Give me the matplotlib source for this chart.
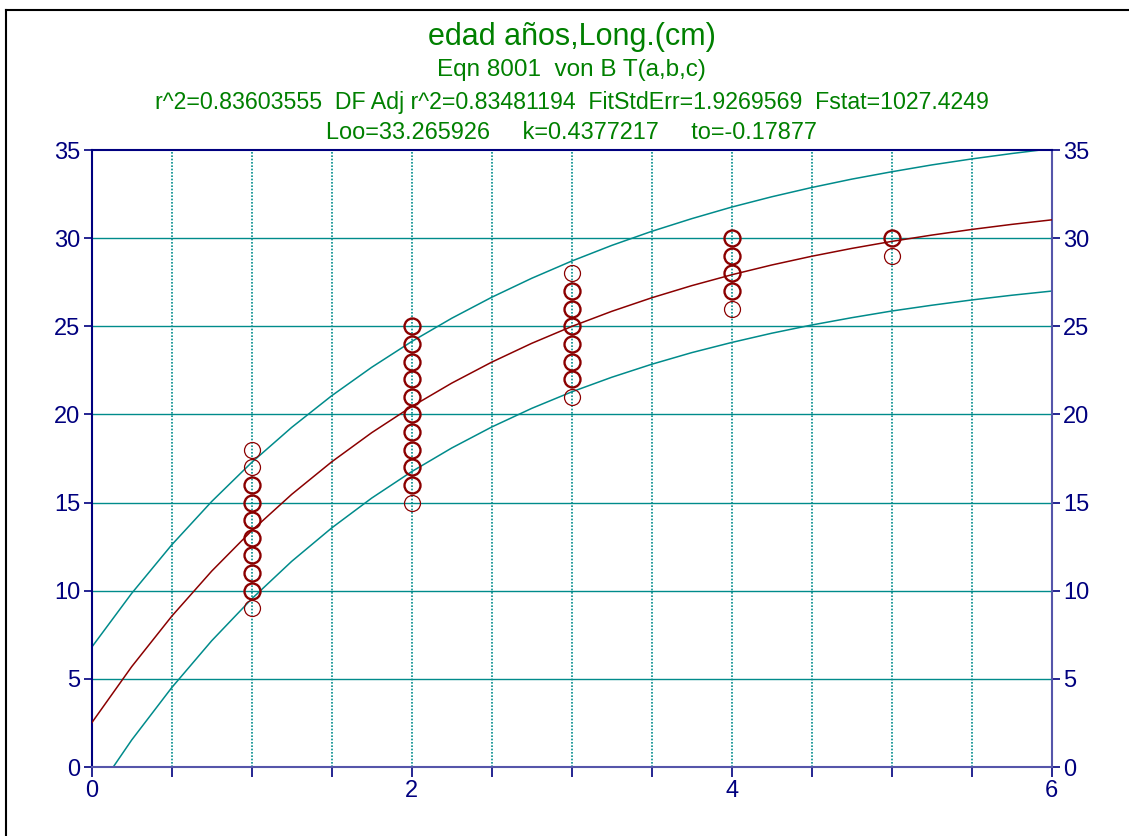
import numpy as np
import matplotlib
matplotlib.use('Agg')
import matplotlib.pyplot as plt
from matplotlib.lines import Line2D
from matplotlib.ticker import MultipleLocator, FixedLocator

plt.rcParams['font.family'] = ['Liberation Sans', 'DejaVu Sans']

# datos observados (edad, longitud, multiplicidad aparente)
edad = [1]*10 + [2]*11 + [3]*8 + [4]*5 + [5]*2
longitud = (list(range(9, 19)) + list(range(15, 26)) + list(range(21, 29))
            + list(range(26, 31)) + [29, 30])
n_obs = ([1, 2, 2, 2, 2, 2, 2, 2, 1, 1]
         + [1] + [2]*10
         + [1, 2, 2, 2, 2, 2, 2, 1]
         + [1, 2, 2, 2, 2]
         + [1, 2])

# parametros del ajuste von Bertalanffy
Loo, k, t0 = 33.265926, 0.4377217, -0.17877

# semiancho de la banda, cada 0.25 años
t_band = [0, 0.25, 0.5, 0.75, 1, 1.25, 1.5, 1.75, 2, 2.25, 2.5, 2.75, 3,
          3.25, 3.5, 3.75, 4, 4.25, 4.5, 4.75, 5, 5.25, 5.5, 5.75, 6]
semiancho = [4.29, 4.16, 4.05, 3.95, 3.87, 3.80, 3.75, 3.71, 3.69, 3.68,
             3.68, 3.69, 3.71, 3.74, 3.77, 3.80, 3.84, 3.87, 3.90, 3.93,
             3.95, 3.98, 4.00, 4.02, 4.04]

titulos = ["edad años,Long.(cm)",
           "Eqn 8001  von B T(a,b,c)",
           "r^2=0.83603555  DF Adj r^2=0.83481194  FitStdErr=1.9269569  Fstat=1027.4249",
           "Loo=33.265926     k=0.4377217     to=-0.17877"]

NAVY = '#00007f'
TEAL = '#008b8b'
RED = '#8b0000'
GREEN = '#008000'

fig = plt.figure(figsize=(11.29, 8.36), dpi=100)
ax = fig.add_axes([0.0812, 0.0825, 0.8503, 0.7380])

# grilla
for xv in np.arange(0.5, 6, 0.5):
    ax.axvline(xv, color=TEAL, lw=1.2, ls=(0, (1, 1)), zorder=1)
for yv in range(5, 35, 5):
    ax.axhline(yv, color=TEAL, lw=1.0, zorder=1)

t = np.array(t_band)
fit = Loo * (1 - np.exp(-k * (t - t0)))
hw = np.array(semiancho)
ax.plot(t, fit + hw, color=TEAL, lw=1.1, zorder=2)
ax.plot(t, fit - hw, color=TEAL, lw=1.1, zorder=2)
ax.plot(t, fit, color=RED, lw=1.1, zorder=3)

for e, l, n in zip(edad, longitud, n_obs):
    ax.plot(e, l, 'o', ms=11.5, mfc='none', mec=RED,
            mew=(0.9 if n == 1 else 1.7), zorder=4)

ax.set_xlim(0, 6)
ax.set_ylim(0, 35)
ax.xaxis.set_major_locator(FixedLocator([0, 2, 4, 6]))
ax.xaxis.set_minor_locator(MultipleLocator(0.5))
ax.yaxis.set_major_locator(MultipleLocator(5))
ax.tick_params(axis='both', which='both', direction='out', colors=NAVY,
               labelcolor=NAVY, labelsize=17, width=1.2)
ax.tick_params(axis='x', which='both', length=7, pad=2)
ax.tick_params(axis='y', which='major', length=6, pad=2,
               right=True, labelright=True)
for lado in ['left', 'top']:
    ax.spines[lado].set_color(NAVY)
    ax.spines[lado].set_linewidth(1.5)
for lado in ['right', 'bottom']:
    ax.spines[lado].set_color('#5555aa')
    ax.spines[lado].set_linewidth(1.5)

# titulos
cx = 0.0812 + 0.8503 / 2
fig.text(cx, 0.9557, titulos[0], ha='center', va='center', color=GREEN, fontsize=22)
fig.text(cx, 0.9160, titulos[1], ha='center', va='center', color=GREEN, fontsize=17.5)
fig.text(cx, 0.8770, titulos[2], ha='center', va='center', color=GREEN, fontsize=16.7)
fig.text(cx, 0.8420, titulos[3], ha='center', va='center', color=GREEN, fontsize=16.9)

# marco exterior
x0, y0 = 6 / 1129, 1 - 10 / 836
fig.add_artist(Line2D([x0, x0], [0, y0], color='black', lw=1.5))
fig.add_artist(Line2D([x0, 1], [y0, y0], color='black', lw=1.5))

fig.savefig('out.png', dpi=100)
